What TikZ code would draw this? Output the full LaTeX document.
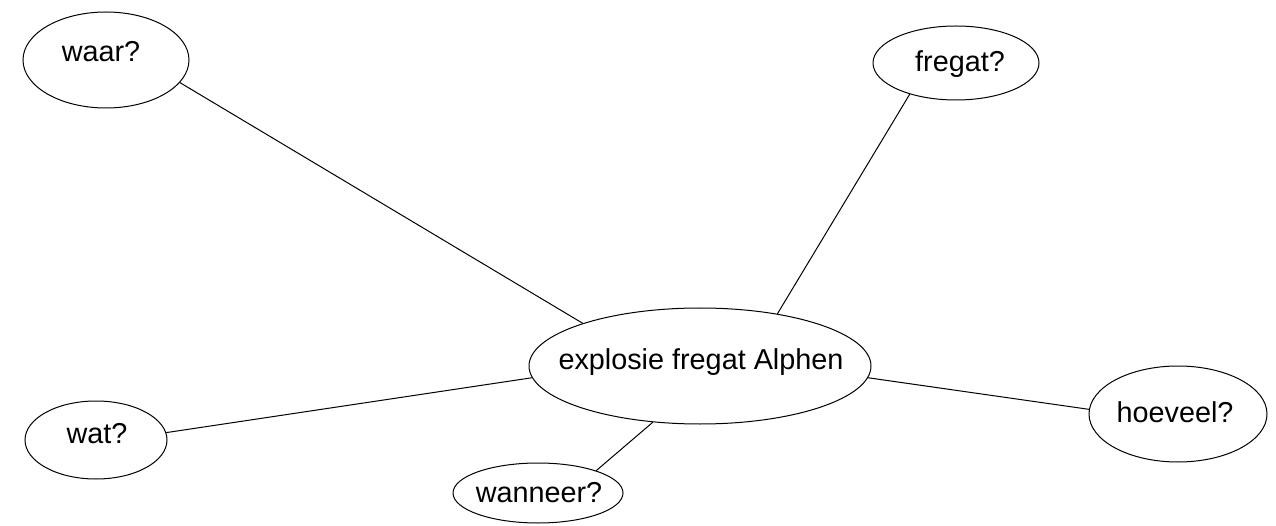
\documentclass[tikz,border=0pt]{standalone}
\usepackage{fontspec}
\setmainfont{Liberation Sans}
\usetikzlibrary{shapes.geometric}
\begin{document}
\begin{tikzpicture}[x=1pt,y=-1pt,
  ell/.style={draw=black, line width=1pt, ellipse, inner sep=0pt},
  lbl/.style={anchor=base, inner sep=0pt, font=\fontsize{28.8}{34}\selectfont, text=black},
  link/.style={draw=black, line width=1pt}]
\useasboundingbox (0,0) rectangle (1276,526);
% ellipses
\node[ell, minimum width=342pt, minimum height=116pt] (c) at (700,366) {};
\node[ell, minimum width=166pt, minimum height=96pt] (waar) at (106,60) {};
\node[ell, minimum width=166pt, minimum height=74pt] (fregat) at (956,63) {};
\node[ell, minimum width=178pt, minimum height=96pt] (hoeveel) at (1178,414) {};
\node[ell, minimum width=142pt, minimum height=78pt] (wat) at (96,440) {};
\node[ell, minimum width=170pt, minimum height=60pt] (wanneer) at (538,493) {};
% labels
\node[lbl] (tc) at (701,369) {explosie fregat Alphen};
\node[lbl] (twaar) at (101,62) {waar?};
\node[lbl] (tfregat) at (960,72) {fregat?};
\node[lbl] (thoeveel) at (1175,422) {hoeveel?};
\node[lbl] (twat) at (97,443) {wat?};
\node[lbl] (twanneer) at (539,502) {wanneer?};
% connectors
\draw[link] (waar.-17.3) -- (c.160);
\draw[link] (fregat.-146.9) -- (c.34.7);
\draw[link] (wat.6.4) -- (c.-176.3);
\draw[link] (hoeveel.177.4) -- (c.-4.8);
\draw[link] (wanneer.21.3) -- (c.-130.1);
\end{tikzpicture}
\end{document}
